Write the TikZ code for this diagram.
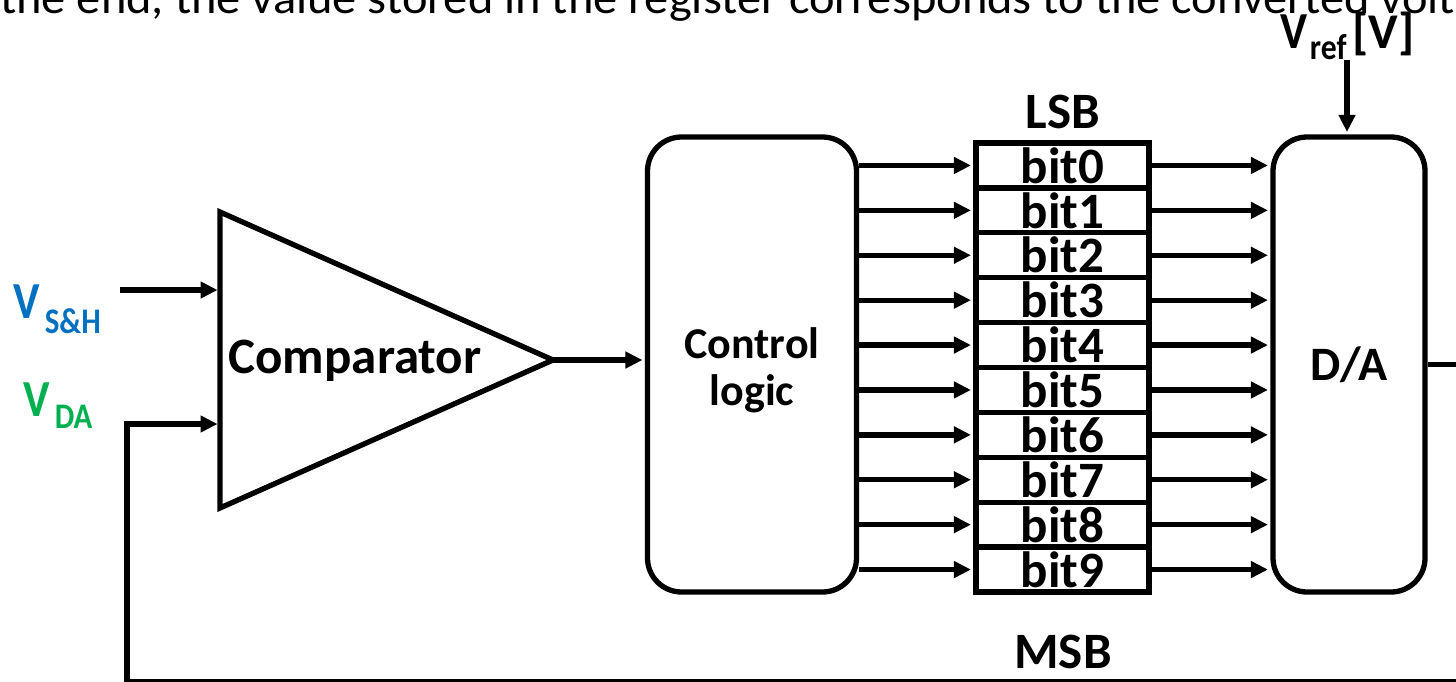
\documentclass[tikz,border=0pt]{standalone}
\usepackage{fontspec}
\setmainfont{Carlito}
\usetikzlibrary{arrows.meta}
\definecolor{vshblue}{RGB}{0,112,192}
\definecolor{vdagreen}{RGB}{0,176,80}
\newcommand{\fsz}[1]{\fontsize{#1}{#1}\selectfont}
\begin{document}
\begin{tikzpicture}[x=1pt,y=-1pt,
  thickline/.style={line width=5.3pt},
  wire/.style={thickline,-{Triangle[length=17pt,width=16pt]},shorten >=2.4pt},
  block/.style={draw,thickline,rounded corners=34pt,minimum height=455pt,inner sep=0pt,
                font=\bfseries\fsz{46},align=center},
  cell/.style={draw,thickline,minimum width=173pt,minimum height=44.9pt,inner sep=0pt,
               font=\bfseries\fsz{51}},
  lbl/.style={font=\bfseries\fsz{51},inner sep=0pt}]
\useasboundingbox (0,0) rectangle (1456,681);
\clip (0,0) rectangle (1456,681);

% running text of the page, cut by the top edge
\node[anchor=base west,inner sep=0pt] (pagetext) at (0,13)
  {\resizebox{1455pt}{\height}{\fsz{46}the end, the value stored in the register corresponds to the converted volt}};

% comparator
\coordinate (cmpA) at (220,212);
\coordinate (cmpOut) at (553,360);
\coordinate (cmpC) at (220,508);
\coordinate (inP) at (220,290);
\coordinate (inN) at (220,424);
\draw[thickline,line join=miter] (cmpA) -- (cmpOut) -- (cmpC) -- cycle;
\node[lbl] (cmptxt) at (355,361) {Comparator};

% control logic and D/A blocks
\node[block,minimum width=209pt] (ctl) at (752,364.5) {};
\node[lbl,font=\bfseries\fsz{44}] (ctltxt1) at (752,343) {Control};
\node[lbl,font=\bfseries\fsz{44},anchor=base] (ctltxt2) at (752,405) {logic};
\node[block,minimum width=152pt] (da) at (1349,364.5) {\fsz{48}D/A};

% 10-bit register
\foreach \i in {0,...,9} {
  \node[cell] (b\i) at (1062.5,{143+44.9*(\i+0.5)}) {bit\i};
}
\node[lbl] (lsb) at (1063,112) {LSB};
\node[lbl] (msb) at (1063,652) {MSB};

\foreach \i in {0,...,9} {
  \draw[wire] (ctl.east |- b\i.west) -- (b\i.west);
  \draw[wire] (b\i.east) -- (da.west |- b\i.east);
}

% inputs
\coordinate (vsh) at (120,290);
\coordinate (fb) at (127,682);
\draw[wire] (vsh) -- (inP);
\draw[wire] (da.east) -- ++(60,0) |- (fb) |- (inN);
\draw[wire] (cmpOut) -- (ctl.west |- cmpOut);

\node[anchor=base west,inner sep=0pt,text=vshblue] (vshlabel) at (13,318)
  {\bfseries\scalebox{0.86}[1]{\fsz{52}V\hspace{6pt}\raisebox{-15pt}{\fsz{36}S\&H}}};
\node[anchor=base west,inner sep=0pt,text=vdagreen] (vdalabel) at (23,416)
  {\bfseries\scalebox{0.86}[1]{\fsz{52}V\hspace{6pt}\raisebox{-12pt}{\fsz{36}DA}}};

% reference voltage
\node[anchor=base west,inner sep=0pt] (vreflabel) at (1280,48)
  {\bfseries\scalebox{0.88}[1]{\fsz{52}V\hspace{3pt}\raisebox{-11pt}{\fsz{36}ref}}\hspace{6pt}\fsz{50}[V]};
\coordinate (vrefin) at (1347,60);
\draw[wire] (vrefin) -- (vrefin |- da.north);
\end{tikzpicture}
\end{document}
